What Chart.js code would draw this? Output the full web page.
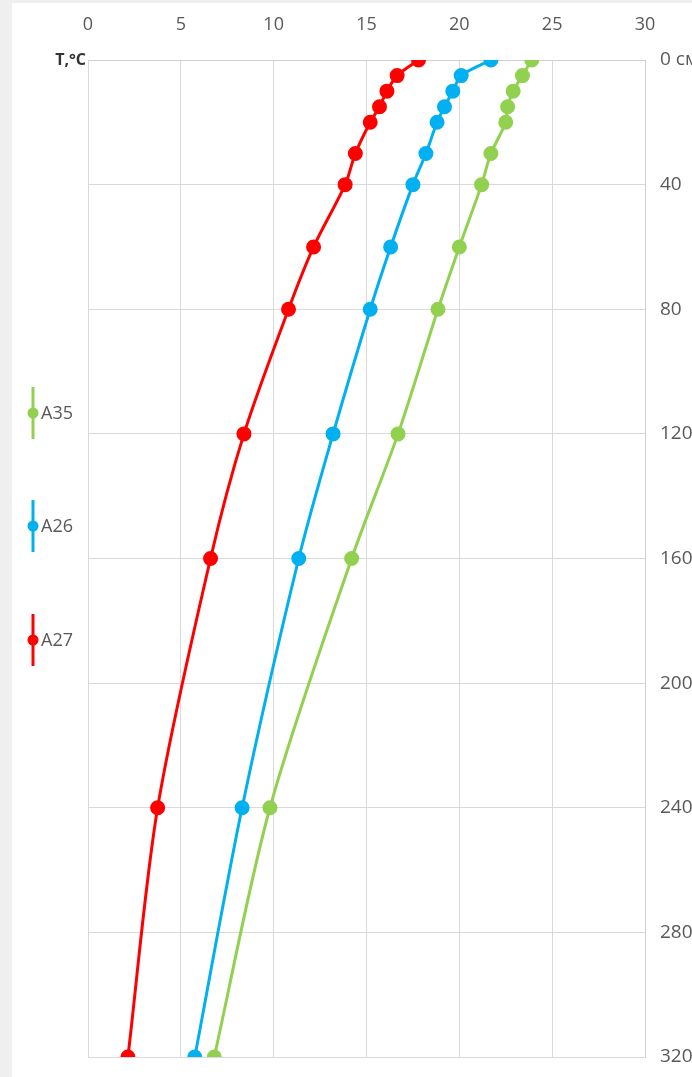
<!DOCTYPE html>
<html>
<head>
<meta charset="utf-8">
<script src="https://cdn.jsdelivr.net/npm/chart.js@4"></script>
<style>
  html, body { margin: 0; padding: 0; background: #efefef; overflow: hidden; }
  #wrap { position: absolute; left: 12px; top: 3px; width: 720px; height: 1074px; background: #fff; }
  #chart { position: absolute; left: -12px; top: -3px; }
</style>
</head>
<body>
<div id="wrap"><canvas id="chart" width="720" height="1077"></canvas></div>
<script>
// Профили температуры грунта по глубине
const depths = [0, 5, 10, 15, 20, 30, 40, 60, 80, 120, 160, 240, 320];
const tempA35 = [23.9, 23.4, 22.9, 22.6, 22.5, 21.7, 21.2, 20.0, 18.85, 16.7, 14.2, 9.8, 6.8];
const tempA26 = [21.7, 20.1, 19.65, 19.2, 18.8, 18.2, 17.5, 16.3, 15.2, 13.2, 11.35, 8.3, 5.75];
const tempA27 = [17.8, 16.65, 16.1, 15.7, 15.2, 14.4, 13.85, 12.15, 10.8, 8.4, 6.6, 3.75, 2.15];

const seriesNames = ['A35', 'A26', 'A27'];
const seriesColors = ['#92D050', '#00B0F0', '#FF0000'];
const seriesTemps = [tempA35, tempA26, tempA27];

const xTicks = [0, 5, 10, 15, 20, 25, 30];
const yTicks = [0, 40, 80, 120, 160, 200, 240, 280, 320];

const datasets = seriesNames.map((name, i) => ({
    label: name,
    data: depths.map((d, k) => ({ x: seriesTemps[i][k], y: d })),
    borderColor: seriesColors[i],
    backgroundColor: seriesColors[i],
    borderWidth: 3,
    pointRadius: 6,
    pointHoverRadius: 6,
    showLine: true,
    tension: 0.3
}));

// Легенда слева: вертикальный штрих с точкой и подпись
const sideLegend = {
    id: 'sideLegend',
    afterDraw(chart) {
        const c = chart.ctx;
        const rows = [413, 526, 640];
        c.save();
        chart.data.datasets.forEach((ds, i) => {
            const y = rows[i];
            c.strokeStyle = ds.borderColor;
            c.fillStyle = ds.borderColor;
            c.lineWidth = 3;
            c.beginPath();
            c.moveTo(33, y - 26);
            c.lineTo(33, y + 26);
            c.stroke();
            c.beginPath();
            c.arc(33, y, 5.5, 0, Math.PI * 2);
            c.fill();
            c.fillStyle = '#595959';
            c.font = '18px "Open Sans"';
            c.textAlign = 'left';
            c.textBaseline = 'middle';
            c.fillText(ds.label, 41, y + 1);
        });
        // подпись оси температуры
        c.fillStyle = '#333';
        c.font = 'bold 16px "Open Sans"';
        c.textAlign = 'right';
        c.textBaseline = 'middle';
        c.fillText('T,°C', 86, chart.chartArea.top);
        c.restore();
    }
};

new Chart(document.getElementById('chart'), {
    type: 'scatter',
    data: { datasets },
    options: {
        responsive: false,
        animation: false,
        layout: { padding: { left: 88, top: 0, right: 0, bottom: 20 } },
        plugins: {
            legend: { display: false },
            tooltip: { enabled: false }
        },
        scales: {
            x: {
                type: 'linear',
                position: 'top',
                min: 0,
                max: 30,
                afterBuildTicks: s => { s.ticks = xTicks.map(v => ({ value: v })); },
                afterFit: s => { s.height = 60; s.paddingLeft = 0; s.paddingRight = 0; },
                grid: { color: '#d9d9d9', lineWidth: 1, drawTicks: false },
                border: { color: '#cfcfcf' },
                ticks: { color: '#595959', font: { family: 'Open Sans', size: 18 }, padding: 24 }
            },
            y: {
                type: 'linear',
                position: 'right',
                reverse: true,
                min: 0,
                max: 320,
                afterBuildTicks: s => { s.ticks = yTicks.map(v => ({ value: v })); },
                afterFit: s => { s.width = 75; s.paddingTop = 0; s.paddingBottom = 0; },
                grid: { color: '#d9d9d9', lineWidth: 1, drawTicks: false },
                border: { color: '#cfcfcf' },
                ticks: {
                    color: '#595959',
                    font: { family: 'Open Sans', size: 19 },
                    padding: 15,
                    callback: v => v === 0 ? '0 см' : String(v)
                }
            }
        }
    },
    plugins: [sideLegend]
});
</script>
</body>
</html>
